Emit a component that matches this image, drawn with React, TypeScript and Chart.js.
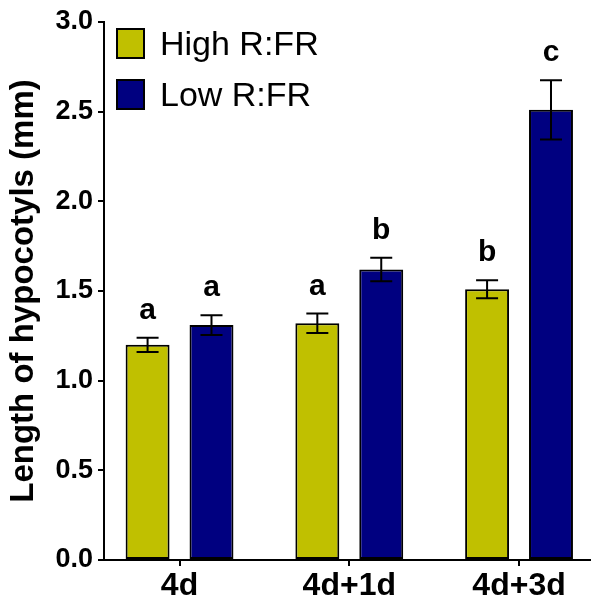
import React, { useEffect, useRef } from 'react';
import { Chart, registerables } from 'chart.js';

Chart.register(...registerables);

const categories = ['4d', '4d+1d', '4d+3d'];
const seriesNames = ['High R:FR', 'Low R:FR'];
const highValues = [1.2, 1.32, 1.51];
const highErrors = [0.04, 0.054, 0.05];
const lowValues = [1.31, 1.62, 2.51];
const lowErrors = [0.055, 0.065, 0.165];
const highLetters = ['a', 'a', 'b'];
const lowLetters = ['a', 'b', 'c'];
const yTicks = [0, 0.5, 1.0, 1.5, 2.0, 2.5, 3.0];
const yTitle = 'Length of hypocotyls (mm)';

const FONT = '"Liberation Sans", Arial, Helvetica, sans-serif';
const YELLOW = '#C0C000';
const NAVY = '#000080';

const errorLetterPlugin = {
  id: 'errorLetters',
  afterDatasetsDraw(chart: any) {
    const ctx = chart.ctx;
    const yScale = chart.scales.y;
    chart.data.datasets.forEach((ds: any, di: number) => {
      const meta = chart.getDatasetMeta(di);
      meta.data.forEach((bar: any, j: number) => {
        const v = ds.data[j].y;
        const e = ds.errors[j];
        const x = bar.x;
        const yTop = yScale.getPixelForValue(v + e);
        const yBot = yScale.getPixelForValue(v - e);
        ctx.save();
        ctx.strokeStyle = '#000';
        ctx.lineWidth = 2;
        ctx.beginPath();
        ctx.moveTo(x, yTop);
        ctx.lineTo(x, yBot);
        ctx.moveTo(x - 11, yTop);
        ctx.lineTo(x + 11, yTop);
        ctx.moveTo(x - 11, yBot);
        ctx.lineTo(x + 11, yBot);
        ctx.stroke();
        ctx.fillStyle = '#000';
        ctx.font = `bold 30px ${FONT}`;
        ctx.textAlign = 'center';
        ctx.textBaseline = 'alphabetic';
        ctx.fillText(ds.letters[j], x, yTop - 19);
        ctx.restore();
      });
    });
  },
  afterDraw(chart: any) {
    const ctx = chart.ctx;
    ctx.save();
    chart.data.datasets.forEach((ds: any, i: number) => {
      const bx = 117;
      const by = 29 + i * 51;
      ctx.fillStyle = ds.backgroundColor;
      ctx.fillRect(bx, by, 27, 29);
      ctx.strokeStyle = '#000';
      ctx.lineWidth = 2;
      ctx.strokeRect(bx, by, 27, 29);
      ctx.fillStyle = '#000';
      ctx.font = `34px ${FONT}`;
      ctx.textAlign = 'left';
      ctx.textBaseline = 'alphabetic';
      ctx.fillText(ds.label, 160, by + 26);
    });
    ctx.restore();
  },
};

export default function App() {
  const ref = useRef<HTMLCanvasElement>(null);
  useEffect(() => {
    if (!ref.current) return;
    const chart = new Chart(ref.current, {
      type: 'bar',
      data: {
        datasets: [
          {
            label: seriesNames[0],
            data: highValues.map((v, i) => ({ x: i, y: v })),
            backgroundColor: YELLOW,
            borderColor: '#000',
            borderWidth: 2,
            borderSkipped: false,
            errors: highErrors,
            letters: highLetters,
          } as any,
          {
            label: seriesNames[1],
            data: lowValues.map((v, i) => ({ x: i, y: v })),
            backgroundColor: NAVY,
            borderColor: '#000',
            borderWidth: 2,
            borderSkipped: false,
            errors: lowErrors,
            letters: lowLetters,
          } as any,
        ],
      },
      options: {
        responsive: false,
        animation: false,
        devicePixelRatio: 1,
        categoryPercentage: 0.753,
        barPercentage: 0.6875,
        layout: { padding: { left: 0, top: 22, right: 5, bottom: 0 } },
        plugins: { legend: { display: false }, tooltip: { enabled: false } },
        scales: {
          x: {
            type: 'linear',
            min: -0.445,
            max: 2.418,
            offset: false,
            afterBuildTicks: (axis: any) => {
              axis.ticks = categories.map((_, i) => ({ value: i }));
            },
            afterFit: (scale: any) => {
              scale.height = 51;
            },
            ticks: {
              callback: (v: any) => categories[Math.round(Number(v))] ?? '',
              color: '#000',
              font: { family: FONT, size: 32, weight: 'bold' },
              padding: 1,
              maxRotation: 0,
              autoSkip: false,
            },
            grid: {
              display: true,
              offset: false,
              drawOnChartArea: false,
              drawTicks: true,
              tickLength: 6,
              color: '#000',
              lineWidth: 2,
            },
            border: { display: true, color: '#000', width: 2 },
          },
          y: {
            min: 0,
            max: 3,
            afterBuildTicks: (axis: any) => {
              axis.ticks = yTicks.map((v) => ({ value: v }));
            },
            afterFit: (scale: any) => {
              scale.width = 104;
            },
            ticks: {
              callback: (v: any) => Number(v).toFixed(1),
              color: '#000',
              font: { family: FONT, size: 27, weight: 'bold' },
              padding: 5,
            },
            grid: {
              display: true,
              drawOnChartArea: false,
              drawTicks: true,
              tickLength: 6,
              color: '#000',
              lineWidth: 2,
            },
            border: { display: true, color: '#000', width: 2 },
            title: {
              display: true,
              text: yTitle,
              color: '#000',
              font: { family: FONT, size: 33, weight: 'bold' },
              padding: { top: 4, bottom: 0 },
            },
          },
        },
      } as any,
      plugins: [errorLetterPlugin],
    });
    return () => chart.destroy();
  }, []);
  return (
    <div style={{ position: 'fixed', left: 0, top: 0, width: 595, height: 611, background: '#fff' }}>
      <canvas ref={ref} width={595} height={611} style={{ display: 'block', width: 595, height: 611 }} />
    </div>
  );
}
